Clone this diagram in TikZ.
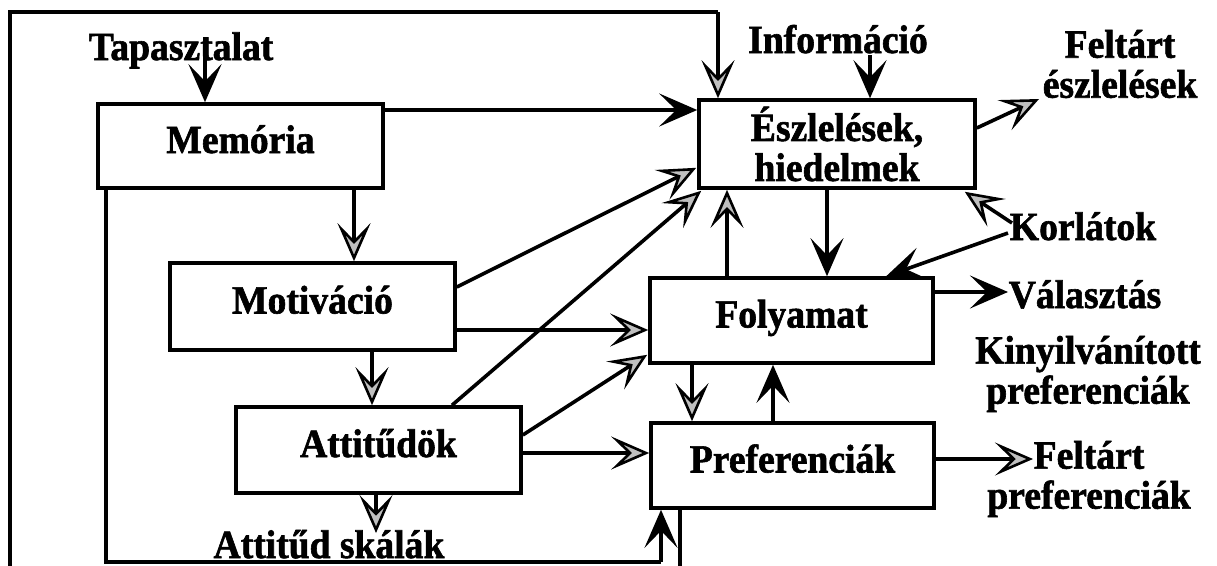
\documentclass[tikz,border=0pt]{standalone}
\usepackage{fontspec}
\setmainfont{Liberation Serif}[FakeStretch=0.94, BoldFeatures={FakeBold=1.5}]
\usetikzlibrary{arrows.meta,calc}
\newcommand\lblfont{\fontsize{40}{40}\selectfont\bfseries}
\tikzset{
  boxbase/.style={draw, line width=3.6pt, inner sep=0pt, font=\lblfont, align=center},
  onebox/.style={boxbase, text height=14pt, text depth=0pt},
  lbl/.style={inner sep=0pt, font=\lblfont, align=center},
  wire/.style={line width=3.6pt},
  blktip/.tip={Stealth[length=38pt,width=33pt,inset=17pt]},
  grytip/.tip={Stealth[length=38pt,width=33pt,inset=17pt,fill=black!25,line width=2.6pt]},
  blk/.style={line width=3.6pt, -blktip},
  gry/.style={line width=3.6pt, -grytip}
}
\begin{document}
\begin{tikzpicture}[x=1pt,y=-1pt]
\useasboundingbox (0,0) rectangle (1217,565);
\clip (0,0) rectangle (1217,565);
\fill[white] (0,0) rectangle (1217,565);

% boxes
\node[onebox, minimum width=285pt, minimum height=84pt] (mem) at (240.5,146) {Memória};
\node[boxbase, minimum width=276pt, minimum height=88pt] (esz) at (837,144) {Észlelések,\\hiedelmek};
\node[onebox, minimum width=285pt, minimum height=87pt] (mot) at (312.5,306.5) {Motiváció};
\node[onebox, minimum width=283pt, minimum height=85pt] (fol) at (791.5,320.5) {Folyamat};
\node[onebox, minimum width=285pt, minimum height=86pt] (att) at (378.5,450) {Attitűdök};
\node[onebox, minimum width=283pt, minimum height=85pt] (pref) at (792.5,465.5) {Preferenciák};

% labels
\node[lbl, anchor=base] (tap) at (181,60) {Tapasztalat};
\node[lbl, anchor=base] (inf) at (838,53) {Információ};
\node[lbl] (feles) at (1120,64) {Feltárt\\észlelések};
\node[lbl, anchor=base] (korl) at (1083,240) {Korlátok};
\node[lbl, anchor=base] (val) at (1085,308) {Választás};
\node[lbl] (kiny) at (1088,374) {Kinyilvánított\\preferenciák};
\node[lbl] (fepref) at (1089,479) {Feltárt\\preferenciák};
\node[lbl, anchor=base] (skal) at (329,558) {Attitűd skálák};

% free ends
\coordinate (tapS) at (205,37);
\coordinate (infS) at (870,55);
\coordinate (felE) at (1039,99);
\coordinate (valE) at (1008,292);
\coordinate (fpE) at (1033,459);
\coordinate (k1) at (1012,223);
\coordinate (k2) at (1008,233);
\coordinate (skE) at (376,533);
\coordinate (lpA) at (106,562);
\coordinate (lpB) at (661,562);
\coordinate (olA) at (680,585);
\coordinate (olB) at (10,585);
\coordinate (olC) at (10,12);
\coordinate (olD) at (718,12);

% inputs
\draw[blk] (tapS) -- (tapS |- mem.north);
\draw[blk] (infS) -- (infS |- esz.north);

% memory
\draw[blk] (mem.east |- 0,110) -- (esz.west |- 0,110);
\draw[gry] (mem.south -| 354,0) -- (mot.north -| 354,0);
\draw[gry] (mot.south -| 372,0) -- (att.north -| 372,0);

% into perceptions
\draw[gry] (mot.east |- 0,287) -- ($(esz.south west)+(-1,-22)$);
\draw[gry] (att.north -| 452,0) -- ($(esz.south west)+(4,1)$);

% into process
\draw[gry] (mot.east |- 0,330) -- (fol.west |- 0,330);
\draw[gry] (att.east |- 0,435) -- ($(fol.south west)+(-1,-10)$);
\draw[gry] (att.east |- 0,453) -- (pref.west |- 0,453);

% perceptions <-> process
\draw[blk] (esz.south -| 827,0) -- (fol.north -| 827,0);
\draw[gry] (fol.north -| 727,0) -- (esz.south -| 727,0);
\draw[gry] (fol.south -| 692,0) -- (pref.north -| 692,0);
\draw[blk] (pref.north -| 773,0) -- (fol.south -| 773,0);

% outputs
\draw[gry] (esz.east |- 0,128) -- (felE);
\draw[blk] (fol.east |- valE) -- (valE);
\draw[gry] (pref.east |- fpE) -- (fpE);
\draw[gry] (att.south -| skE) -- (skE);

% constraints
\draw[gry] (k1) -- ($(esz.south east)+(-12,2)$);
\draw[blk] (k2) -- ($(fol.north west)+(238,0)$);

% memory feedback loop
\draw[wire] (mem.south -| lpA) -- (lpA) -- (lpB);
\draw[blk] (lpB) -- (pref.south -| lpB);

% outer feedback loop
\draw[wire] (pref.south -| olA) -- (olA) -- (olB) -- (olC) -- (olD);
\draw[gry] (olD) -- (olD |- esz.north);
\end{tikzpicture}
\end{document}
